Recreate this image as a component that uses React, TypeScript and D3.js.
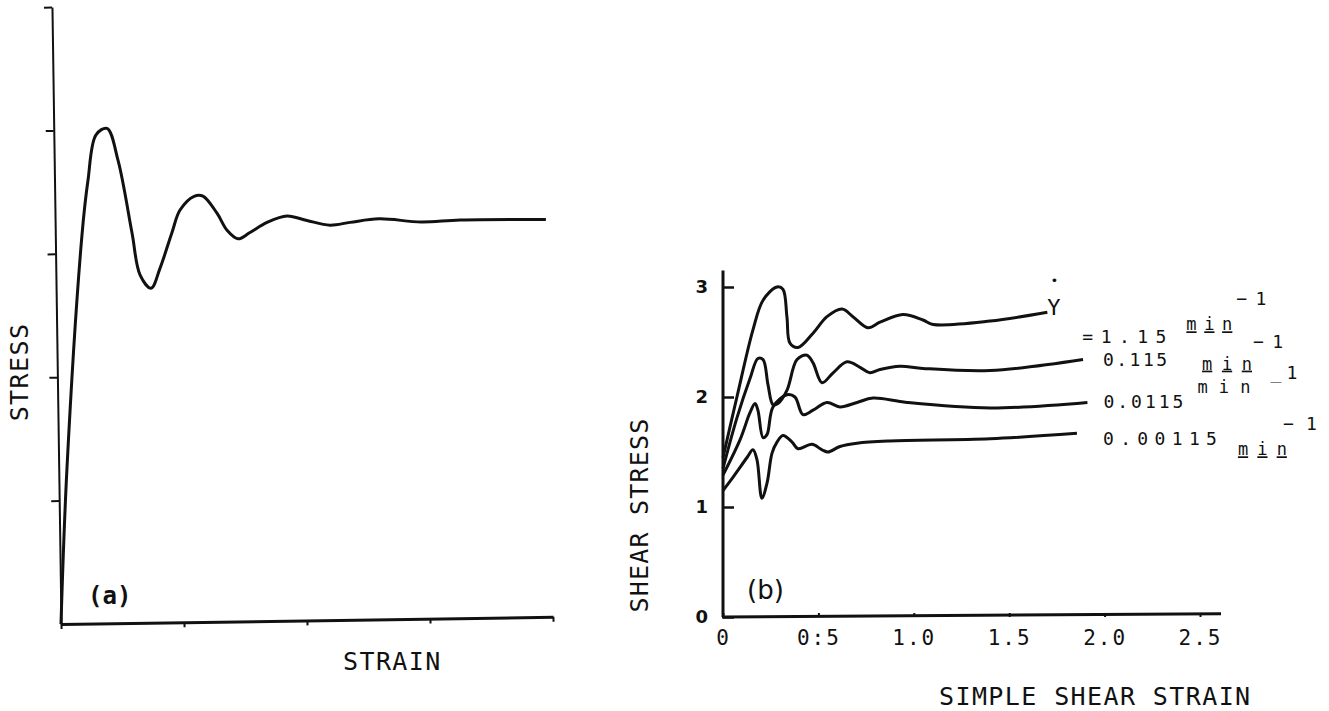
import { useEffect, useRef } from "react";
import * as d3 from "d3";

// (a) generic stress vs strain, no units on the axes
const strainA = [0, 0.067, 0.217, 0.272, 0.343, 0.433, 0.519, 0.624, 0.684, 0.772, 0.847, 0.949, 1.017, 1.133, 1.205, 1.317, 1.397, 1.485, 1.583, 1.723, 1.886, 2.048, 2.235, 2.398, 2.634, 2.975, 3.292, 3.99];
const stressA = [0, 1.26, 3.15, 3.59, 3.96, 4.01, 3.75, 3.16, 2.82, 2.71, 2.87, 3.16, 3.34, 3.45, 3.45, 3.31, 3.17, 3.1, 3.15, 3.23, 3.28, 3.24, 3.2, 3.22, 3.245, 3.215, 3.226, 3.22];
const ticksAX = [0, 1, 2, 3, 4];
const ticksAY = [1, 2, 3, 4, 5];

// (b) shear stress vs simple shear strain, one curve per shear rate
const rateLabels = ["=1.15", "0.115", "0.0115", "0.00115"];
const strainB1 = [0, 0.073, 0.157, 0.21, 0.283, 0.314, 0.335, 0.351, 0.393, 0.472, 0.545, 0.624, 0.681, 0.76, 0.823, 0.943, 1.048, 1.101, 1.4, 1.7];
const stressB1 = [1.45, 2.0, 2.61, 2.88, 3.0, 2.98, 2.73, 2.49, 2.45, 2.58, 2.73, 2.8, 2.73, 2.63, 2.68, 2.75, 2.7, 2.66, 2.69, 2.77];
const strainB2 = [0, 0.073, 0.142, 0.183, 0.21, 0.236, 0.262, 0.288, 0.335, 0.388, 0.44, 0.472, 0.519, 0.577, 0.65, 0.718, 0.77, 0.823, 0.928, 1.048, 1.4, 1.887];
const stressB2 = [1.35, 1.81, 2.17, 2.35, 2.34, 2.11, 1.93, 1.94, 2.06, 2.34, 2.38, 2.31, 2.13, 2.22, 2.32, 2.27, 2.22, 2.25, 2.28, 2.26, 2.24, 2.34];
const strainB3 = [0, 0.089, 0.142, 0.168, 0.183, 0.21, 0.231, 0.262, 0.335, 0.377, 0.419, 0.472, 0.545, 0.613, 0.702, 0.786, 0.964, 1.4, 1.91];
const stressB3 = [1.29, 1.61, 1.86, 1.94, 1.88, 1.63, 1.66, 1.91, 2.02, 2.0, 1.84, 1.88, 1.95, 1.91, 1.95, 1.99, 1.95, 1.9, 1.95];
const strainB4 = [0, 0.052, 0.126, 0.157, 0.178, 0.204, 0.231, 0.257, 0.283, 0.314, 0.362, 0.393, 0.466, 0.519, 0.55, 0.613, 0.702, 0.875, 1.4, 1.855];
const stressB4 = [1.15, 1.27, 1.45, 1.52, 1.43, 1.08, 1.22, 1.49, 1.59, 1.65, 1.59, 1.53, 1.57, 1.52, 1.5, 1.55, 1.58, 1.6, 1.62, 1.67];
const xTicksB = [0, 0.5, 1, 1.5, 2, 2.5];
const xTickLabelsB = ["0", "0:5", "1.0", "1.5", "2.0", "2.5"];
const yTicksB = [0, 1, 2, 3];

const ink = "#111";
const mono = "'DejaVu Sans Mono', monospace";

export default function App() {
  const ref = useRef<SVGSVGElement>(null);

  useEffect(() => {
    const svg = d3.select(ref.current);
    svg.selectAll("*").remove();

    const smooth = d3.curveCatmullRom.alpha(0.5);

    // ---------- panel (a) ----------
    const xA = d3.scaleLinear().domain([0, 4]).range([61, 553]);
    const yA = d3.scaleLinear().domain([0, 5]).range([624, 7]);
    // the scan is slightly rotated
    const gA = svg.append("g").attr("transform", `rotate(-0.84 ${xA(0)} ${yA(0)})`);

    const axA = gA
      .append("g")
      .attr("transform", `translate(${xA(0)},0)`)
      .call(d3.axisLeft(yA).tickValues(ticksAY).tickSize(8).tickSizeOuter(0).tickFormat(() => ""));
    axA.select(".domain").attr("stroke", ink).attr("stroke-width", 2);
    axA.selectAll(".tick line").attr("stroke", ink).attr("stroke-width", 2);

    const axAx = gA
      .append("g")
      .attr("transform", `translate(0,${yA(0)})`)
      .call(d3.axisBottom(xA).tickValues(ticksAX).tickSize(5).tickSizeOuter(0).tickFormat(() => ""));
    axAx.select(".domain").attr("stroke", ink).attr("stroke-width", 3);
    axAx.selectAll(".tick line").attr("stroke", ink).attr("stroke-width", 2);

    const lineA = d3
      .line<[number, number]>()
      .x((d) => xA(d[0]))
      .y((d) => yA(d[1]))
      .curve(smooth);
    gA.append("path")
      .datum(d3.zip(strainA, stressA) as [number, number][])
      .attr("fill", "none")
      .attr("stroke", ink)
      .attr("stroke-width", 3)
      .attr("stroke-linejoin", "round")
      .attr("d", lineA);

    svg.append("text")
      .attr("transform", "translate(28,372) rotate(-90)")
      .attr("text-anchor", "middle")
      .attr("font-family", mono)
      .attr("font-size", 25)
      .attr("letter-spacing", 1.4)
      .attr("fill", ink)
      .text("STRESS");
    svg.append("text")
      .attr("x", 343)
      .attr("y", 670)
      .attr("font-family", mono)
      .attr("font-size", 25)
      .attr("letter-spacing", 1.4)
      .attr("fill", ink)
      .text("STRAIN");
    svg.append("text")
      .attr("x", 88)
      .attr("y", 604)
      .attr("font-family", mono)
      .attr("font-weight", "bold")
      .attr("font-size", 24)
      .attr("fill", ink)
      .text("(a)");

    // ---------- panel (b) ----------
    const xB = d3.scaleLinear().domain([0, 2.5]).range([723, 1200]);
    const yB = d3.scaleLinear().domain([0, 3]).range([617, 287]);
    const gB = svg.append("g");

    const axB = gB
      .append("g")
      .attr("transform", `translate(${xB(0)},0)`)
      .call(d3.axisLeft(yB).tickValues(yTicksB).tickSize(-11).tickPadding(15).tickFormat(d3.format("d")));
    axB.select(".domain").remove();
    axB.selectAll(".tick line").attr("stroke", ink).attr("stroke-width", 2.5);
    axB.selectAll(".tick text")
      .attr("font-family", "'DejaVu Sans', sans-serif")
      .attr("font-weight", "bold")
      .attr("font-size", 18)
      .attr("fill", ink);
    gB.append("line")
      .attr("x1", xB(0))
      .attr("x2", xB(0))
      .attr("y1", yB(0))
      .attr("y2", yB(3.15))
      .attr("stroke", ink)
      .attr("stroke-width", 3);

    const axBx = gB
      .append("g")
      .attr("transform", `translate(0,${yB(0)})`)
      .call(
        d3.axisBottom(xB)
          .tickValues(xTicksB)
          .tickSize(-4)
          .tickPadding(13)
          .tickFormat((_, i) => xTickLabelsB[i])
      );
    axBx.select(".domain").remove();
    axBx.selectAll(".tick line").attr("stroke", ink).attr("stroke-width", 2);
    axBx.selectAll(".tick text")
      .attr("font-family", mono)
      .attr("font-size", 21)
      .attr("letter-spacing", 2)
      .attr("fill", ink);
    gB.append("line")
      .attr("x1", xB(0) - 1)
      .attr("x2", xB(2.61))
      .attr("y1", yB(0))
      .attr("y2", yB(0.03))
      .attr("stroke", ink)
      .attr("stroke-width", 3);

    const lineB = d3
      .line<[number, number]>()
      .x((d) => xB(d[0]))
      .y((d) => yB(d[1]))
      .curve(smooth);
    const seriesB = [
      d3.zip(strainB1, stressB1),
      d3.zip(strainB2, stressB2),
      d3.zip(strainB3, stressB3),
      d3.zip(strainB4, stressB4),
    ] as [number, number][][];
    gB.selectAll("path.rate")
      .data(seriesB)
      .join("path")
      .attr("class", "rate")
      .attr("fill", "none")
      .attr("stroke", ink)
      .attr("stroke-width", 3)
      .attr("stroke-linejoin", "round")
      .attr("d", lineB);

    // rate labels, placed off each curve's last point
    const ends = seriesB.map((s) => s[s.length - 1]).map((p) => [xB(p[0]), yB(p[1])]);
    const labelLayout = [
      { num: [35, 31, 84], min: [139, 18, 46], exp: [189, -7, 30], expText: "\u22121" },
      { num: [20, 6, 64], min: [119, 10, 50], exp: [170, -12, 30], expText: "\u22121" },
      { num: [16, 5, 80], min: [110, -10, 53], exp: [183, -24, 27], expText: "_1" },
      { num: [26, 12, 114], min: [161, 22, 49], exp: [206, -3, 34], expText: "\u22121" },
    ];
    const tag = (x: number, y: number, s: string, size: number, len?: number) => {
      const t = gB.append("text")
        .attr("x", x)
        .attr("y", y)
        .attr("font-family", mono)
        .attr("font-size", size)
        .attr("fill", ink)
        .text(s);
      if (len) t.attr("textLength", len).attr("lengthAdjust", "spacing");
      return t;
    };
    ends.forEach(([ex, ey], i) => {
      const L = labelLayout[i];
      tag(ex + L.num[0], ey + L.num[1], rateLabels[i], 18, L.num[2]);
      tag(ex + L.min[0], ey + L.min[1], "min", 17, L.min[2])
        .attr("text-decoration", i === 2 ? "none" : "underline");
      tag(ex + L.exp[0], ey + L.exp[1], L.expText, 18, L.exp[2]);
    });
    // gamma-dot symbol at the top curve
    const [gx, gy] = ends[0];
    tag(gx, gy + 3, "Y", 22);
    tag(gx + 7, gy - 27, "\u2022", 13).attr("text-anchor", "middle");

    svg.append("text")
      .attr("transform", "translate(648,515) rotate(-90)")
      .attr("text-anchor", "middle")
      .attr("font-family", mono)
      .attr("font-size", 25)
      .attr("letter-spacing", 1.2)
      .attr("fill", ink)
      .text("SHEAR STRESS");
    svg.append("text")
      .attr("x", 939)
      .attr("y", 705)
      .attr("font-family", mono)
      .attr("font-size", 25)
      .attr("letter-spacing", 1.4)
      .attr("fill", ink)
      .text("SIMPLE SHEAR STRAIN");
    svg.append("text")
      .attr("x", 747)
      .attr("y", 599)
      .attr("font-family", "'DejaVu Sans', sans-serif")
      .attr("font-size", 26)
      .attr("fill", ink)
      .text("(b)");
  }, []);

  return (
    <svg
      ref={ref}
      width={1329}
      height={711}
      style={{ position: "absolute", left: 0, top: 0, background: "#fff" }}
    />
  );
}
